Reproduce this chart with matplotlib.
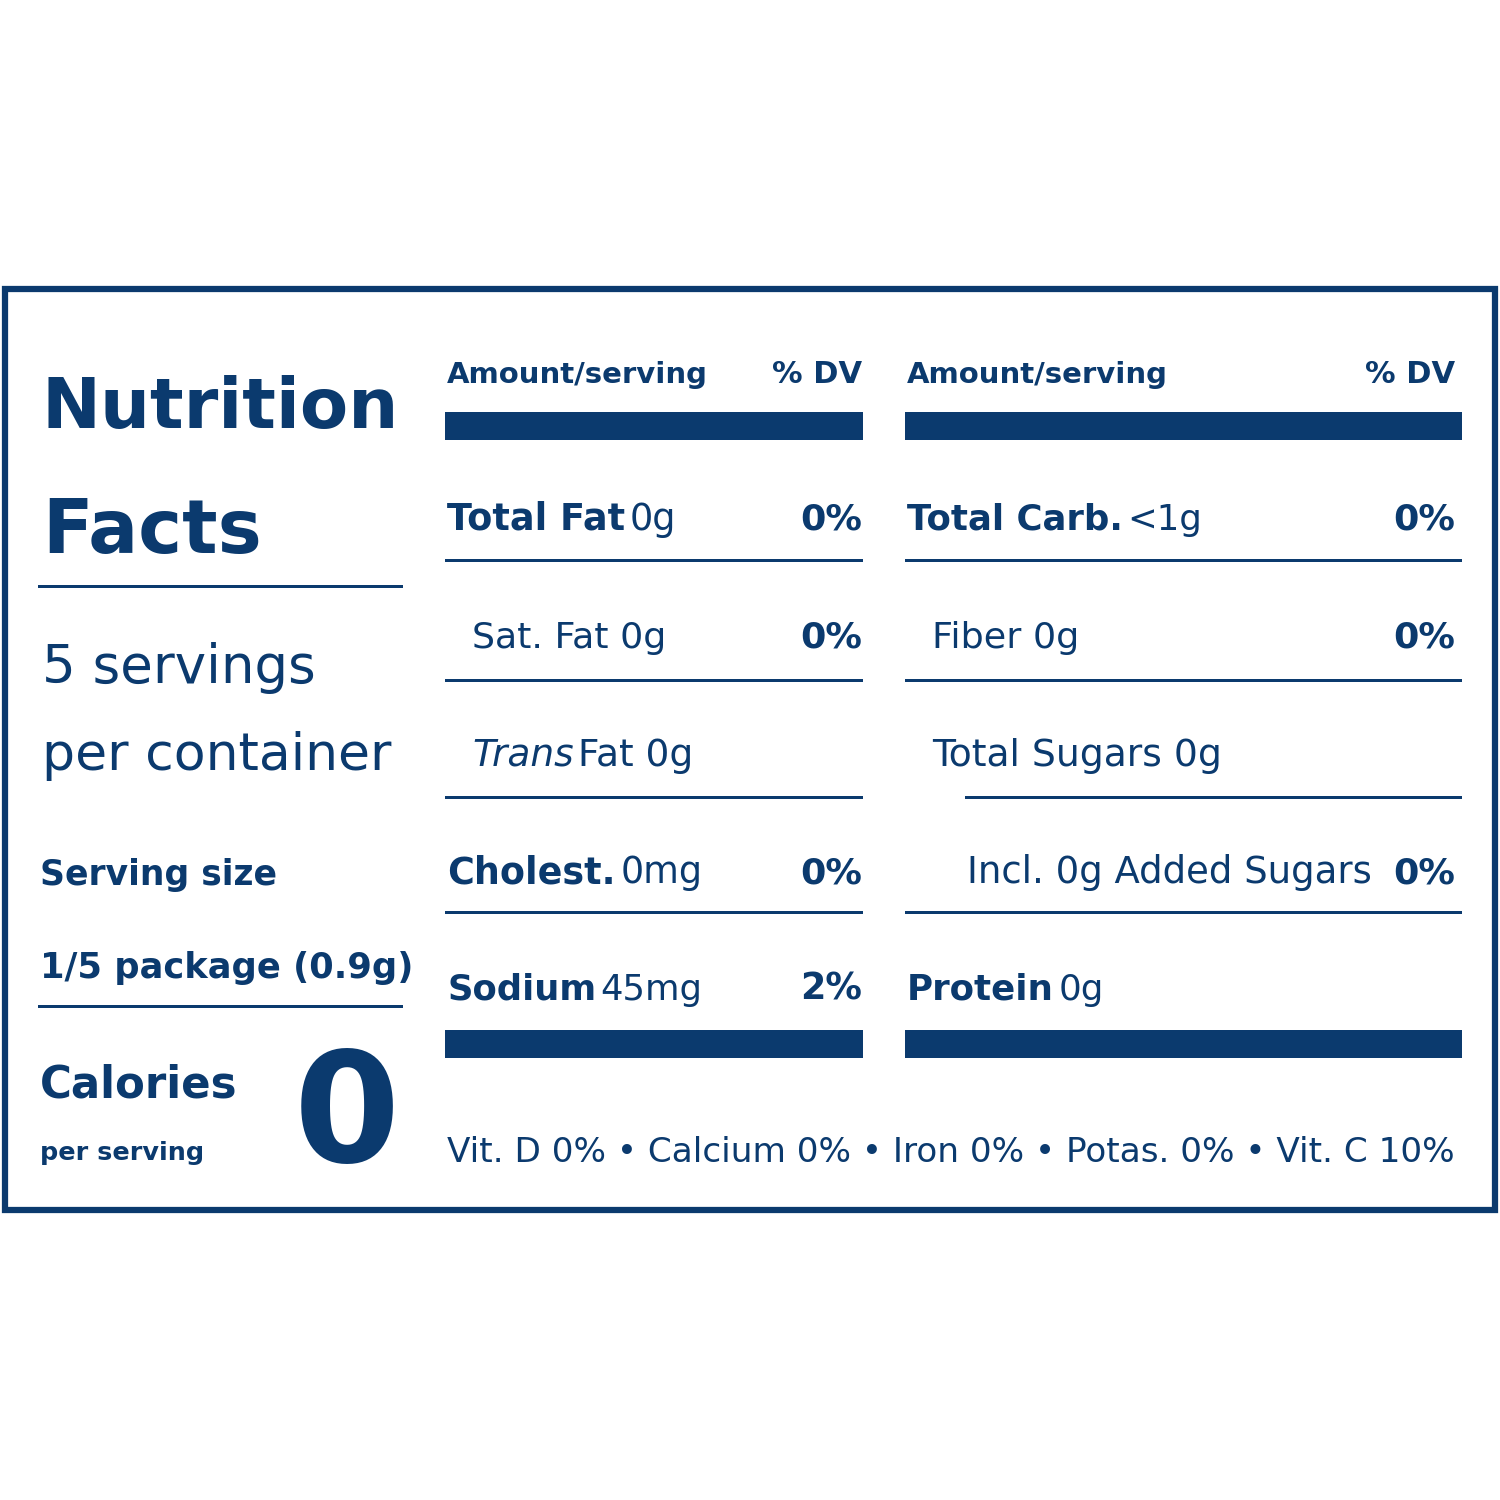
import matplotlib
matplotlib.use("Agg")
import matplotlib.pyplot as plt
from matplotlib.patches import Rectangle

NAVY = "#0b3a6e"
FAM = ['DejaVu Sans Condensed', 'Liberation Sans Narrow', 'DejaVu Sans']

left_nutrients = [("Total Fat", "0g", "0%", True, ""), ("Sat. Fat", "0g", "0%", False, ""),
                  ("Trans", "Fat 0g", "", False, "italic"), ("Cholest.", "0mg", "0%", True, ""),
                  ("Sodium", "45mg", "2%", True, "")]
right_nutrients = [("Total Carb.", "<1g", "0%", True, ""), ("Fiber", "0g", "0%", False, ""),
                   ("Total Sugars", "0g", "", False, ""), ("Incl. 0g Added Sugars", "", "0%", False, ""),
                   ("Protein", "0g", "", True, "")]
vitamins = "Vit. D 0% • Calcium 0% • Iron 0% • Potas. 0% • Vit. C 10%"
servings_text = ["5 servings", "per container"]
serving_size = ["Serving size", "1/5 package (0.9g)"]
calories = "0"

left_widths = [229, 195, 222, 255, 256]
right_widths = [295, 147, 290, 405, 197]

fig = plt.figure(figsize=(15, 15), dpi=100)
ax = fig.add_axes([0, 0, 1, 1])
ax.set_xlim(0, 1500); ax.set_ylim(1500, 0); ax.axis('off')
fig.canvas.draw()
R = fig.canvas.get_renderer()
SC = 1500 / fig.bbox.width

def width(t):
    return t.get_window_extent(R).width * SC

def run(x, y, parts, size, maxw=None, ha='left'):
    """Draw a sequence of text runs; shrink so total width <= maxw."""
    def draw(sz):
        objs, cx = [], x
        for s, w, st in parts:
            t = ax.text(cx, y, s, fontsize=sz, fontweight=w, style=st, ha='left',
                        va='baseline', color=NAVY, family=FAM)
            objs.append(t)
            cx += width(t) + 0.18 * sz
        return objs, cx - 0.18 * sz - x
    objs, tw = draw(size)
    if maxw and tw > maxw:
        for o in objs: o.remove()
        size = size * maxw / tw
        objs, tw = draw(size)
    if ha == 'right':
        for o in objs:
            o.set_x(o.get_position()[0] - tw)
    return objs

def T(x, y, s, size, weight='normal', maxw=None, ha='left', style='normal'):
    return run(x, y, [(s, weight, style)], size, maxw, ha)

def hline(x0, x1, y, h):
    ax.add_patch(Rectangle((x0, y - h / 2), x1 - x0, h, color=NAVY, lw=0))

ax.add_patch(Rectangle((5, 289), 1490, 921, fill=False, ec=NAVY, lw=4.5))

T(42, 428, "Nutrition", 100, 'bold', 358)
T(42, 553, "Facts", 100, 'bold', 220)
hline(38, 403, 586, 3)
T(42, 683, servings_text[0], 50, maxw=274)
T(42, 770, servings_text[1], 50, maxw=350)
T(40, 885, serving_size[0], 48, 'bold', 238)
T(40, 978, serving_size[1], 48, 'bold', 373)
hline(38, 403, 1006, 3)
T(40, 1098, "Calories", 55, 'bold', 198)
T(40, 1160, "per serving", 36, 'bold', 164)
T(400, 1162, calories, 110, 'bold', ha='right')

ys = [530, 648, 766, 883, 1000]
lines_y = [560, 680, 797, 912]
for (x0, x1, data, dvx, widths) in [(445, 863, left_nutrients, 862, left_widths),
                                    (905, 1462, right_nutrients, 1455, right_widths)]:
    T(x0 + 2, 383, "Amount/serving", 40, 'bold', 261)
    T(dvx, 383, "% DV", 40, 'bold', 90, ha='right')
    hline(x0, x1, 426, 28)
    hline(x0, x1, 1044, 28)
    for i, (name, amt, dv, bold, st) in enumerate(data):
        indent = 0 if bold else 25
        if name.startswith("Incl."):
            indent = 60
        if st == 'italic':
            parts = [(name, 'normal', 'italic'), (amt, 'normal', 'normal')]
        elif bold:
            parts = [(name, 'bold', 'normal'), (amt, 'normal', 'normal')]
        else:
            parts = [((name + " " + amt).strip(), 'normal', 'normal')]
        run(x0 + 2 + indent, ys[i], parts, 52, widths[i])
        if dv:
            T(dvx, ys[i], dv, 52, 'bold', 62, ha='right')
    for j, ly in enumerate(lines_y):
        hline(965 if (x0 == 905 and j == 2) else x0, x1, ly, 3)

T(447, 1162, vitamins, 52, maxw=1008)
fig.savefig("out.png", dpi=100, facecolor='white')
